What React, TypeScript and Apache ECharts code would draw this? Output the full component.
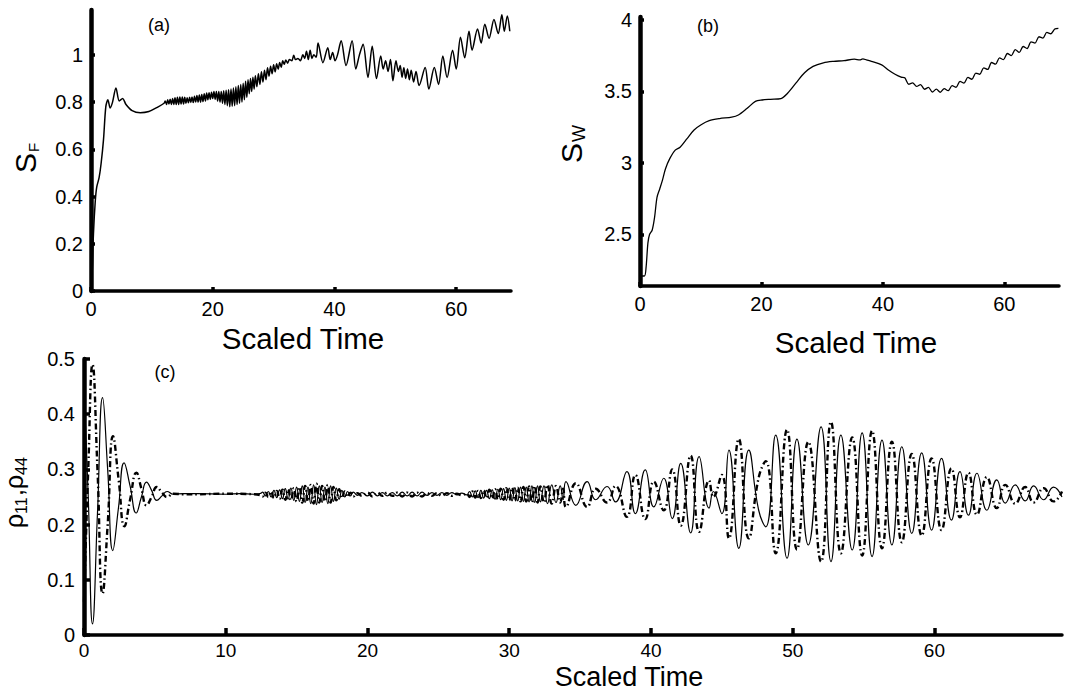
import React, { useEffect, useRef } from "react";
import * as echarts from "echarts";

// ---------- Panel (a): S_F vs scaled time ----------
const sfData: number[][] = [
  [0, 0], [0.2, 0.08], [0.4, 0.24], [0.7, 0.38], [0.94, 0.44], [1.33, 0.48], [1.66, 0.54], [2.05, 0.64],
  [2.43, 0.78], [2.77, 0.81], [3.15, 0.775], [3.54, 0.8], [4.1, 0.86], [4.65, 0.805], [5.2, 0.815],
  [5.75, 0.79], [6.75, 0.764], [8.1, 0.755], [9.5, 0.76], [10.9, 0.778], [12, 0.795],
  [12.2, 0.805], [12.4, 0.79], [12.6, 0.81], [12.8, 0.792], [13, 0.812], [13.2, 0.79], [13.4, 0.815],
  [13.6, 0.79], [13.8, 0.818], [14, 0.79], [14.2, 0.82], [14.4, 0.79], [14.6, 0.822], [14.8, 0.792],
  [15, 0.822], [15.2, 0.792], [15.4, 0.82], [15.6, 0.795], [15.8, 0.818], [16, 0.797], [16.2, 0.82],
  [16.4, 0.798], [16.6, 0.822], [16.8, 0.798], [17, 0.825], [17.2, 0.8], [17.4, 0.828], [17.6, 0.8],
  [17.8, 0.83], [18, 0.8], [18.2, 0.832], [18.4, 0.802], [18.6, 0.835], [18.8, 0.805], [19, 0.838],
  [19.2, 0.81], [19.4, 0.84], [19.6, 0.812], [19.8, 0.842], [20, 0.815], [20.2, 0.845], [20.4, 0.812],
  [20.6, 0.845], [20.8, 0.805], [21, 0.845], [21.2, 0.8], [21.4, 0.845], [21.6, 0.795], [21.8, 0.848],
  [22, 0.79], [22.2, 0.85], [22.4, 0.785], [22.6, 0.852], [22.8, 0.78], [23, 0.855], [23.2, 0.782],
  [23.4, 0.86], [23.6, 0.785], [23.8, 0.865], [24, 0.79], [24.2, 0.87], [24.4, 0.795], [24.6, 0.875],
  [24.8, 0.8], [25, 0.88], [25.2, 0.81], [25.4, 0.888], [25.6, 0.82], [25.8, 0.895], [26, 0.835],
  [26.2, 0.9], [26.4, 0.845], [26.6, 0.905], [26.8, 0.855], [27, 0.912], [27.25, 0.865], [27.5, 0.92],
  [27.75, 0.875], [28, 0.928], [28.25, 0.885], [28.5, 0.935], [28.75, 0.895], [29, 0.945], [29.25, 0.91],
  [29.5, 0.952], [29.75, 0.92], [30, 0.958], [30.25, 0.928], [30.5, 0.962], [30.75, 0.94], [31, 0.968],
  [31.25, 0.948], [31.5, 0.975], [31.75, 0.96], [32, 0.978], [32.3, 0.965], [32.6, 0.98], [33, 0.975],
  [33.3, 0.998], [33.6, 0.98], [34, 0.985], [34.4, 0.975], [34.8, 1.0], [35.1, 0.985], [35.4, 1.015],
  [35.7, 0.98], [36, 1.02], [36.3, 0.985], [36.6, 1.0], [37, 0.99], [37.3, 1.05], [38.1, 0.967],
  [38.9, 1.03], [39.3, 0.98], [39.7, 1.01], [40.1, 0.975], [40.5, 1.0], [41.1, 1.06], [41.9, 0.955],
  [42.9, 1.06], [43.5, 0.94], [44.1, 1.0], [44.7, 1.045], [45.5, 0.904], [46.2, 1.037], [46.9, 0.9],
  [47.6, 0.995], [48, 0.94], [48.4, 0.975], [48.8, 0.93], [49.2, 0.98], [49.6, 0.89], [50.1, 0.975],
  [50.5, 0.93], [50.8, 0.955], [51.1, 0.905], [51.4, 0.945], [51.7, 0.9], [52, 0.94], [52.3, 0.895],
  [52.6, 0.935], [53, 0.885], [53.4, 0.93], [53.9, 0.87], [54.9, 0.946], [55.5, 0.855], [56.4, 0.946],
  [57.1, 0.875], [57.8, 0.995], [58.5, 0.904], [59.4, 1.02], [60, 0.94], [60.7, 1.075], [61.4, 0.988],
  [62.1, 1.1], [62.6, 1.02], [63.5, 1.11], [64.1, 1.05], [64.7, 1.13], [65.4, 1.07], [66.2, 1.15],
  [66.9, 1.09], [67.5, 1.17], [67.9, 1.1], [68.4, 1.165], [68.8, 1.1],
];

// ---------- Panel (b): S_W vs scaled time ----------
const swData: number[][] = [
  [0, 2.21], [0.73, 2.21], [1.0, 2.27], [1.3, 2.44], [1.57, 2.5], [2.0, 2.53], [2.4, 2.62], [2.8, 2.76],
  [3.26, 2.82], [3.7, 2.88], [4.2, 2.96], [4.9, 3.03], [5.8, 3.09], [6.6, 3.11], [7.75, 3.17], [8.9, 3.23],
  [10, 3.265], [11.4, 3.295], [13.1, 3.31], [15.1, 3.32], [16.2, 3.335], [17.6, 3.38], [19, 3.43],
  [20.1, 3.44], [21.5, 3.445], [23.2, 3.45], [24.3, 3.487], [25.7, 3.56], [27.1, 3.63], [28.5, 3.675],
  [30.2, 3.7], [31.9, 3.71], [33.6, 3.715], [35.3, 3.725], [36.2, 3.72], [36.7, 3.728], [37.3, 3.72],
  [38.1, 3.71], [39.8, 3.685], [40.9, 3.65], [42, 3.62], [43, 3.6], [43.6, 3.595], [44.25, 3.55],
  [44.9, 3.56], [45.55, 3.535], [46.2, 3.548], [46.85, 3.515], [47.5, 3.528], [48.15, 3.496], [48.8, 3.516],
  [49.45, 3.494], [50.1, 3.52], [50.75, 3.505], [51.4, 3.54], [52.05, 3.529], [52.7, 3.57], [53.35, 3.558],
  [54, 3.598], [54.65, 3.585], [55.3, 3.628], [55.95, 3.62], [56.6, 3.665], [57.25, 3.654], [57.9, 3.702],
  [58.55, 3.69], [59.2, 3.735], [59.85, 3.722], [60.5, 3.765], [61.15, 3.75], [61.8, 3.792], [62.45, 3.773],
  [63.1, 3.814], [63.75, 3.8], [64.4, 3.846], [65.05, 3.838], [65.7, 3.882], [66.35, 3.872], [67, 3.912],
  [67.65, 3.903], [68.3, 3.936], [68.9, 3.94],
];

// ---------- Panel (c): rho11 (solid) and rho44 (dash-dot) ----------
const rho11Data: number[][] = [
  [0, 0.45], [0.3, 0.25], [0.6, 0.02], [0.95, 0.22], [1.31, 0.43], [1.67, 0.3], [2.03, 0.153], [2.43, 0.23],
  [2.83, 0.312], [3.25, 0.27], [3.68, 0.221], [4.05, 0.25], [4.41, 0.277], [4.77, 0.262], [5.13, 0.244],
  [5.5, 0.252], [5.86, 0.26], [6.3, 0.255], [7, 0.256], [8, 0.256], [10, 0.255], [11, 0.256], [12, 0.255],
  [12.5, 0.257], [12.6, 0.259], [12.8, 0.252], [13, 0.26], [13.2, 0.25], [13.4, 0.262], [13.6, 0.249],
  [13.8, 0.263], [14, 0.247], [14.2, 0.265], [14.4, 0.246], [14.6, 0.266], [14.8, 0.244], [15, 0.268],
  [15.2, 0.242], [15.4, 0.27], [15.6, 0.24], [15.8, 0.268], [16, 0.238], [16.2, 0.272], [16.4, 0.236],
  [16.6, 0.27], [16.8, 0.24], [17, 0.268], [17.2, 0.238], [17.4, 0.27], [17.6, 0.242], [17.8, 0.266],
  [18, 0.246], [18.2, 0.262], [18.4, 0.25], [18.6, 0.26], [18.8, 0.252], [19, 0.259], [19.3, 0.253],
  [19.6, 0.258], [20, 0.252], [20.35, 0.259], [20.7, 0.252], [21.05, 0.258], [21.4, 0.252], [21.75, 0.258],
  [22.1, 0.252], [22.45, 0.259], [22.8, 0.252], [23.15, 0.259], [23.5, 0.252], [23.85, 0.259], [24.2, 0.253],
  [24.55, 0.258], [24.9, 0.253], [25.25, 0.258], [25.6, 0.253], [25.95, 0.258], [26.3, 0.254], [26.65, 0.257],
  [27, 0.254], [27.2, 0.26], [27.4, 0.25], [27.6, 0.261], [27.8, 0.249], [28, 0.262], [28.2, 0.248],
  [28.4, 0.262], [28.6, 0.247], [28.8, 0.263], [29, 0.246], [29.2, 0.264], [29.4, 0.245], [29.6, 0.265],
  [29.8, 0.244], [30, 0.266], [30.2, 0.243], [30.4, 0.267], [30.6, 0.243], [30.8, 0.268], [31, 0.242],
  [31.2, 0.268], [31.4, 0.241], [31.6, 0.27], [31.8, 0.24], [32, 0.27], [32.2, 0.241], [32.45, 0.27],
  [32.7, 0.238], [33, 0.272], [33.3, 0.24], [33.6, 0.27], [33.8, 0.245], [34, 0.278], [34.7, 0.235],
  [35.5, 0.278], [36.1, 0.245], [36.9, 0.269], [37.5, 0.241], [38.3, 0.296], [38.9, 0.22], [39.6, 0.299],
  [40.2, 0.232], [40.9, 0.284], [41.5, 0.211], [42.1, 0.311], [42.8, 0.185], [43.4, 0.323], [44.1, 0.23],
  [44.4, 0.26], [45, 0.22], [45.5, 0.335], [46.2, 0.157], [46.9, 0.335], [47.6, 0.226], [48.1, 0.196],
  [48.8, 0.362], [49.6, 0.139], [50.3, 0.355], [51.1, 0.163], [52, 0.377], [52.7, 0.133], [53.4, 0.362],
  [54.2, 0.154], [54.9, 0.366], [55.6, 0.142], [56.3, 0.353], [57, 0.163], [57.7, 0.341], [58.4, 0.184],
  [59.1, 0.33], [59.8, 0.19], [60.5, 0.32], [61.2, 0.208], [61.8, 0.296], [62.4, 0.217], [63, 0.293],
  [63.7, 0.226], [64.4, 0.281], [65, 0.239], [65.7, 0.272], [66.4, 0.243], [67, 0.27], [67.7, 0.245],
  [68.4, 0.268], [69, 0.25],
];

const rho44Data: number[][] = [
  [0, 0.06], [0.3, 0.3], [0.6, 0.49], [0.95, 0.3], [1.31, 0.075], [1.67, 0.2], [2.05, 0.36], [2.45, 0.28],
  [2.85, 0.197], [3.25, 0.245], [3.7, 0.294], [4.05, 0.265], [4.41, 0.235], [4.77, 0.25], [5.13, 0.268],
  [5.5, 0.258], [5.86, 0.25], [6.3, 0.256], [7, 0.255], [8, 0.255], [10, 0.256], [12, 0.255], [12.5, 0.253],
  [12.6, 0.251], [12.8, 0.258], [13, 0.25], [13.2, 0.26], [13.4, 0.248], [13.6, 0.261], [13.8, 0.247],
  [14, 0.263], [14.2, 0.245], [14.4, 0.264], [14.6, 0.244], [14.8, 0.266], [15, 0.242], [15.2, 0.268],
  [15.4, 0.24], [15.6, 0.27], [15.8, 0.242], [16, 0.272], [16.2, 0.238], [16.4, 0.274], [16.6, 0.24],
  [16.8, 0.27], [17, 0.242], [17.2, 0.272], [17.4, 0.24], [17.6, 0.268], [17.8, 0.244], [18, 0.264],
  [18.2, 0.248], [18.4, 0.26], [18.6, 0.25], [18.8, 0.258], [19, 0.251], [19.3, 0.257], [19.6, 0.252],
  [20, 0.258], [20.35, 0.251], [20.7, 0.258], [21.05, 0.252], [21.4, 0.258], [21.75, 0.252], [22.1, 0.258],
  [22.45, 0.251], [22.8, 0.258], [23.15, 0.251], [23.5, 0.258], [23.85, 0.251], [24.2, 0.257], [24.55, 0.252],
  [24.9, 0.257], [25.25, 0.252], [25.6, 0.257], [25.95, 0.252], [26.3, 0.256], [26.65, 0.253], [27, 0.256],
  [27.2, 0.25], [27.4, 0.26], [27.6, 0.249], [27.8, 0.261], [28, 0.248], [28.2, 0.262], [28.4, 0.248],
  [28.6, 0.263], [28.8, 0.247], [29, 0.264], [29.2, 0.246], [29.4, 0.265], [29.6, 0.245], [29.8, 0.266],
  [30, 0.244], [30.2, 0.267], [30.4, 0.243], [30.6, 0.267], [30.8, 0.242], [31, 0.268], [31.2, 0.242],
  [31.4, 0.269], [31.6, 0.24], [31.8, 0.27], [32, 0.24], [32.2, 0.269], [32.45, 0.24], [32.7, 0.272],
  [33, 0.238], [33.3, 0.27], [33.6, 0.24], [33.8, 0.265], [34, 0.232], [34.7, 0.275], [35.5, 0.232],
  [36.1, 0.265], [36.9, 0.24], [37.5, 0.27], [38.3, 0.214], [38.9, 0.29], [39.6, 0.21], [40.2, 0.278],
  [40.9, 0.226], [41.5, 0.3], [42.1, 0.198], [42.8, 0.325], [43.4, 0.187], [44.1, 0.28], [44.4, 0.25],
  [45, 0.29], [45.5, 0.175], [46.2, 0.355], [46.9, 0.175], [47.6, 0.285], [48.1, 0.315], [48.8, 0.148],
  [49.6, 0.372], [50.3, 0.155], [51.1, 0.35], [52, 0.133], [52.7, 0.386], [53.4, 0.148], [54.2, 0.358],
  [54.9, 0.144], [55.6, 0.37], [56.3, 0.157], [57, 0.35], [57.7, 0.168], [58.4, 0.328], [59.1, 0.18],
  [59.8, 0.32], [60.5, 0.19], [61.2, 0.302], [61.8, 0.213], [62.4, 0.294], [63, 0.218], [63.7, 0.286],
  [64.4, 0.23], [65, 0.272], [65.7, 0.238], [66.4, 0.268], [67, 0.24], [67.7, 0.266], [68.4, 0.242],
  [69, 0.26],
];

// ---------- Tick values ----------
const timeTicksAB = [0, 20, 40, 60];
const timeTicksC = [0, 10, 20, 30, 40, 50, 60];
const sfTicks = [0, 0.2, 0.4, 0.6, 0.8, 1];
const swTicks = [2.5, 3, 3.5, 4];
const rhoTicks = [0, 0.1, 0.2, 0.3, 0.4, 0.5];

const FONT = "Liberation Sans, Arial, Helvetica, sans-serif";

function xAxis(gridIndex: number, ticks: number[], tickLen: number, margin: number, size: number) {
  return {
    type: "value",
    gridIndex,
    min: 0,
    max: 69,
    axisLine: { show: true, onZero: false, lineStyle: { color: "#000", width: 3.5 } },
    axisTick: { show: true, inside: true, length: tickLen, customValues: ticks, lineStyle: { color: "#000", width: 3.5 } },
    axisLabel: { show: true, customValues: ticks, margin, color: "#000", fontSize: size, fontFamily: FONT },
    splitLine: { show: false },
  };
}

function yAxis(gridIndex: number, min: number, max: number, ticks: number[], tickLen: number, margin: number) {
  return {
    type: "value",
    gridIndex,
    min,
    max,
    axisLine: { show: true, onZero: false, lineStyle: { color: "#000", width: 4.5 } },
    axisTick: { show: true, inside: true, length: tickLen, customValues: ticks, lineStyle: { color: "#000", width: 3.5 } },
    axisLabel: { show: true, customValues: ticks, margin, color: "#000", fontSize: 20, fontFamily: FONT },
    splitLine: { show: false },
  };
}

function txt(text: string, x: number, y: number, size: number, align = "left") {
  return {
    type: "text",
    x,
    y,
    style: {
      text,
      fill: "#000",
      fontSize: size,
      fontFamily: FONT,
      align,
      textAlign: align,
      verticalAlign: "middle",
      textVerticalAlign: "middle",
    },
  };
}

export default function App() {
  const ref = useRef<HTMLDivElement>(null);
  useEffect(() => {
    if (!ref.current) return;
    const chart = echarts.init(ref.current, null, { renderer: "svg" });
    const option = {
      animation: false,
      backgroundColor: "#fff",
      textStyle: { fontFamily: FONT },
      grid: [
        { left: 91, top: 10, width: 420, height: 281 },
        { left: 640, top: 17, width: 419, height: 269 },
        { left: 84, top: 359, width: 978, height: 276 },
      ],
      xAxis: [
        xAxis(0, timeTicksAB, 4, 8, 20),
        xAxis(1, timeTicksAB, 4, 8, 20),
        xAxis(2, timeTicksC, 7, 6, 19),
      ],
      yAxis: [
        yAxis(0, 0, 1.19, sfTicks, 4, 8),
        yAxis(1, 2.14, 4.02, swTicks, 4, 8),
        yAxis(2, 0, 0.5, rhoTicks, 6, 9),
      ],
      series: [
        {
          type: "line", xAxisIndex: 0, yAxisIndex: 0, data: sfData, symbol: "none", smooth: 0.3,
          lineStyle: { color: "#000", width: 1.5 },
        },
        {
          type: "line", xAxisIndex: 1, yAxisIndex: 1, data: swData, symbol: "none", smooth: 0.3,
          lineStyle: { color: "#000", width: 1.3 },
        },
        {
          type: "line", xAxisIndex: 2, yAxisIndex: 2, data: rho44Data, symbol: "none", smooth: 0.5,
          lineStyle: { color: "#000", width: 2.4, type: [6, 3, 1.5, 3] },
        },
        {
          type: "line", xAxisIndex: 2, yAxisIndex: 2, data: rho11Data, symbol: "none", smooth: 0.5,
          lineStyle: { color: "#000", width: 1.2 },
        },
      ],
      graphic: [
        txt("(a)", 159, 25, 18, "center"),
        txt("(b)", 708, 26, 18, "center"),
        txt("(c)", 165, 372, 18, "center"),
        txt("Scaled Time", 303, 338, 29.5, "center"),
        txt("Scaled Time", 856, 342, 29.5, "center"),
        txt("Scaled Time", 629, 677, 27, "center"),
        {
          type: "group", x: 25, y: 173, rotation: Math.PI / 2,
          children: [txt("S", 0, 0, 30), txt("F", 21, 8, 15)],
        },
        {
          type: "group", x: 571, y: 163, rotation: Math.PI / 2,
          children: [txt("S", 0, 0, 30), txt("W", 21, 8, 18)],
        },
        {
          type: "group", x: 14, y: 528, rotation: Math.PI / 2,
          children: [
            txt("\u03c1", 0, 0, 25),
            txt("11", 14, 7, 16),
            txt(",", 32, 0, 25),
            txt("\u03c1", 39, 0, 25),
            txt("44", 53, 7, 16),
          ],
        },
      ],
    };
    chart.setOption(option as any);
    return () => chart.dispose();
  }, []);
  return (
    <div
      ref={ref}
      style={{ position: "fixed", left: 0, top: 0, width: 1066, height: 693, background: "#fff" }}
    />
  );
}
